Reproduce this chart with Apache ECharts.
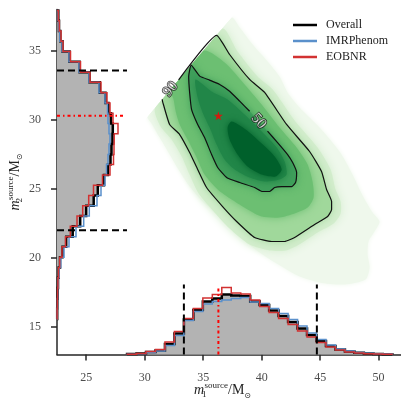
<!DOCTYPE html>
<html><head><meta charset="utf-8">
<script src="https://cdn.jsdelivr.net/npm/echarts@6/dist/echarts.min.js"></script>
<style>html,body{margin:0;padding:0;background:#fff}#c{width:401px;height:399px}</style>
</head><body><div id="c"></div>
<script>
// ---------- data ----------
const m1Ticks = [25, 30, 35, 40, 45, 50];
const m2Ticks = [15, 20, 25, 30, 35];
const seriesNames = ['Overall', 'IMRPhenom', 'EOBNR'];

// m1 marginal histogram (bin edges, counts)
const m1Edges = [28.49, 29.30, 30.11, 30.92, 31.73, 32.54, 33.35, 34.16, 34.97, 35.78, 36.59, 37.40, 38.21, 39.02, 39.83, 40.64, 41.45, 42.26, 43.07, 43.88, 44.69, 45.50, 46.31, 47.12, 47.93, 48.74, 49.55, 50.36, 51.17];
const m1Overall = [5, 10, 25, 40, 105, 210, 350, 445, 530, 560, 600, 590, 585, 530, 495, 440, 385, 325, 260, 195, 135, 85, 50, 30, 17, 10, 6, 3];
const m1IMRPhenom = [3, 7, 20, 35, 90, 190, 340, 430, 505, 530, 545, 560, 570, 525, 510, 460, 410, 350, 285, 215, 150, 95, 55, 35, 20, 12, 8, 4];
const m1EOBNR = [3, 10, 30, 50, 125, 230, 360, 460, 565, 600, 670, 615, 605, 545, 480, 420, 360, 300, 235, 175, 120, 75, 45, 25, 15, 8, 4, 2];

// m2 marginal histogram (bin edges, counts)
const m2Edges = [15.58, 16.33, 17.07, 17.82, 18.56, 19.31, 20.05, 20.80, 21.54, 22.29, 23.03, 23.78, 24.52, 25.27, 26.01, 26.76, 27.50, 28.25, 28.99, 29.74, 30.48, 31.23, 31.97, 32.72, 33.46, 34.21, 34.95, 35.70, 36.44, 37.19, 37.93];
const m2Overall = [2, 3, 6, 10, 17, 30, 55, 92, 157, 232, 292, 367, 408, 470, 510, 535, 545, 555, 558, 540, 515, 485, 428, 325, 226, 125, 55, 33, 20, 13];
const m2IMRPhenom = [2, 4, 7, 12, 22, 38, 70, 120, 190, 267, 323, 400, 440, 480, 495, 510, 520, 530, 520, 510, 505, 480, 420, 320, 220, 120, 50, 28, 18, 10];
const m2EOBNR = [1, 3, 5, 9, 15, 27, 50, 85, 133, 200, 257, 317, 365, 455, 530, 565, 570, 572, 610, 560, 530, 500, 440, 330, 235, 135, 60, 40, 23, 13];

// credible interval bounds and max-likelihood point
const m1Interval = [33.35, 44.72];
const m2Interval = [22.0, 33.58];
const maxLikelihood = [36.3, 30.3];

// 2D contours (m1, m2)
const contour90 = [[32.9, 32.9], [36.15, 36.12], [37.26, 34.74], [38.97, 32.93], [40.25, 31.99], [42.13, 29.67], [44.1, 27.71], [45.12, 26.26], [45.55, 24.96], [45.98, 24.09], [45.98, 23.51], [45.64, 23.0], [44.53, 22.42], [42.82, 21.48], [41.96, 21.19], [40.85, 21.19], [39.4, 21.48], [37.86, 22.64], [36.66, 23.72], [35.29, 25.1], [34.53, 26.41], [33.84, 27.64], [32.99, 28.94], [32.13, 29.67], [31.53, 31.33], [31.5, 31.5]];
const contour50 = [[40.5, 29.18], [41.36, 28.36], [42.22, 27.49], [42.65, 26.91], [42.99, 26.19], [42.9, 25.46], [42.56, 25.17], [41.71, 25.17], [41.11, 25.1], [40.68, 24.81], [40.08, 24.81], [39.4, 25.1], [38.12, 25.46], [37.0, 25.83], [36.24, 26.55], [35.72, 27.49], [35.12, 28.72], [34.53, 29.67], [34.01, 30.75], [33.84, 31.99], [33.76, 33.14], [33.97, 33.97], [34.7, 33.17], [35.55, 32.88], [36.41, 32.57], [37.26, 32.08], [38.12, 31.36], [38.97, 30.63]];
const contourLabelText = ['90', '50'];
const contourLabelAt = [[32.2, 32.22], [39.74, 29.9]];

// density shading levels (outermost to core)
const densityOuter = [[37.4, 37.4], [38.12, 36.7], [39.23, 35.46], [40.51, 34.23], [41.53, 33.14], [42.22, 31.99], [43.24, 30.9], [44.95, 29.45], [46.66, 27.71], [47.77, 26.04], [48.63, 24.52], [49.48, 23.29], [50.08, 22.64], [49.65, 21.91], [49.14, 21.19], [49.06, 20.25], [49.23, 19.3], [48.88, 18.43], [47.09, 18.07], [44.95, 18.22], [43.07, 18.72], [41.28, 19.59], [39.57, 20.54], [38.37, 21.33], [37.26, 22.2], [36.15, 23.14], [34.95, 24.09], [33.84, 25.17], [32.99, 26.26], [32.13, 27.49], [31.28, 28.72], [30.59, 29.74], [30.25, 30.25]];
const densityHalo = [[36.6, 36.6], [37.94, 34.96], [39.65, 33.14], [40.94, 32.2], [42.82, 29.96], [44.78, 28.0], [45.89, 26.41], [46.32, 24.96], [46.75, 24.09], [46.75, 23.22], [46.15, 22.49], [44.78, 21.84], [43.07, 20.9], [42.05, 20.54], [40.68, 20.54], [38.97, 20.97], [37.26, 22.13], [35.98, 23.29], [34.61, 24.67], [33.84, 26.04], [33.16, 27.35], [32.3, 28.58], [31.36, 29.52], [30.9, 30.9]];
const densityMid = [[35.0, 35.0], [36.83, 34.16], [38.54, 32.57], [40.0, 31.12], [41.53, 29.45], [42.99, 28.0], [43.93, 26.77], [44.35, 25.54], [44.44, 24.38], [43.93, 23.65], [42.82, 23.22], [41.53, 22.93], [40.0, 23.0], [38.8, 23.51], [37.43, 24.23], [36.24, 24.96], [35.12, 26.04], [34.44, 27.28], [33.67, 28.58], [32.99, 29.67], [32.65, 30.61], [32.47, 31.48], [32.2, 32.2]];
const densityInner = [[34.35, 32.93], [35.72, 32.06], [37.09, 31.48], [38.54, 30.39], [40.0, 29.16], [41.28, 28.0], [41.96, 26.99], [42.13, 26.04], [41.53, 25.68], [40.25, 25.54], [38.97, 25.83], [37.69, 26.41], [36.83, 27.13], [36.15, 28.22], [35.55, 29.45], [34.95, 30.54], [34.53, 31.62]];
const densityCore = [[37.43, 29.88], [38.63, 29.3], [40.0, 28.29], [41.11, 27.35], [41.71, 26.41], [41.19, 25.9], [40.0, 26.04], [38.8, 26.62], [37.94, 27.49], [37.26, 28.58], [37.09, 29.45]];

// ---------- styling ----------
const X_MIN = 22.5, X_MAX = 52, Y_MIN = 13, Y_MAX = 38, HIST_MAX = 3450;
const INTERVAL_LINE_TOP = 700, ML_LINE_TOP = 670;
const FONT = 'Liberation Serif, DejaVu Serif, serif';
const C_BLUE = '#5a90cb', C_RED = '#d23232', C_GRAY = '#b3b3b3';
const shadeLevels = [
  [densityOuter, '#eff8ec', 5],
  [densityHalo, '#d3edcd', 10],
  [contour90, '#a0d89b', 8],
  [densityMid, '#6cbf72', 9],
  [contour50, '#3f9f5b', 8],
  [densityInner, '#218648', 8],
  [densityCore, '#00602b', 7]
];

function stepHist(name, edges, counts, horizontal, color, width, fill, z) {
  return {
    type: 'custom', name: name, z: z,
    xAxisIndex: horizontal ? 1 : 0, yAxisIndex: horizontal ? 0 : 1,
    itemStyle: { color: color },
    data: counts.map((c, i) => [edges[i], edges[i + 1], c]),
    encode: horizontal ? { x: 2, y: [0, 1] } : { x: [0, 1], y: 2 },
    renderItem: function (params, api) {
      if (params.dataIndex !== 0) return null;
      const pt = (v, c) => horizontal ? api.coord([c, v]) : api.coord([v, c]);
      const pts = [pt(edges[0], 0)];
      counts.forEach((c, i) => { pts.push(pt(edges[i], c)); pts.push(pt(edges[i + 1], c)); });
      pts.push(pt(edges[counts.length], 0));
      const children = [];
      if (fill) children.push({ type: 'polygon', shape: { points: pts }, style: { fill: fill, stroke: null } });
      children.push({ type: 'polyline', shape: { points: pts }, style: { fill: null, stroke: color, lineWidth: width, lineJoin: 'miter' } });
      return { type: 'group', children: children };
    }
  };
}

function refLine(axisIsM1, value, top, color, dash) {
  return {
    type: 'line', silent: true, z: 6, symbol: 'none', animation: false,
    xAxisIndex: axisIsM1 ? 0 : 1, yAxisIndex: axisIsM1 ? 1 : 0,
    data: axisIsM1 ? [[value, 0], [value, top]] : [[0, value], [top, value]],
    lineStyle: { color: color, width: 2, type: dash }
  };
}

const shadingSeries = {
  type: 'custom', silent: true, z: 1,
  xAxisIndex: 0, yAxisIndex: 0,
  data: densityOuter,
  encode: { x: 0, y: 1 },
  renderItem: function (params, api) {
    if (params.dataIndex !== 0) return null;
    const children = shadeLevels.map(([poly, col, blur]) => ({
      type: 'polygon',
      shape: { points: poly.map(p => api.coord(p)), smooth: 0.25 },
      style: { fill: col, stroke: null, shadowBlur: blur, shadowColor: col }
    }));
    const clip = [[X_MIN, Y_MIN], [X_MAX, Y_MIN], [X_MAX, Y_MAX], [Y_MAX, Y_MAX], [X_MIN, X_MIN]].map(p => api.coord(p));
    return { type: 'group', children: children, clipPath: { type: 'polygon', shape: { points: clip } } };
  }
};

const contourLine = (pts) => ({
  type: 'line', silent: true, z: 3, symbol: 'none', smooth: 0.15,
  xAxisIndex: 0, yAxisIndex: 0, data: pts,
  lineStyle: { color: '#111', width: 1.2 }
});

const axisNameRich = {
  i: { fontFamily: FONT, fontStyle: 'italic', fontSize: 14, color: '#222', lineHeight: 18 },
  s: { fontFamily: FONT, fontSize: 9, color: '#222', verticalAlign: 'bottom', lineHeight: 18, width: 0.5 },
  p: { fontFamily: FONT, fontSize: 9, color: '#222', verticalAlign: 'top', lineHeight: 18 },
  n: { fontFamily: FONT, fontSize: 14, color: '#222', lineHeight: 18 },
  o: { fontFamily: 'DejaVu Sans', fontSize: 8, color: '#222', verticalAlign: 'bottom', lineHeight: 18 }
};

const axisCommon = {
  axisLine: { show: true, onZero: false, lineStyle: { color: '#262626', width: 1.5 } },
  splitLine: { show: false },
  nameMoveOverlap: false
};

const option = {
  animation: false,
  backgroundColor: '#fff',
  grid: { left: 57, top: 9.5, width: 345, height: 345, containLabel: false, outerBoundsMode: 'none' },
  legend: {
    orient: 'vertical', left: 288, top: 13, itemWidth: 24, itemHeight: 2.5, itemGap: 2, icon: 'rect',
    textStyle: { fontFamily: FONT, fontSize: 12, color: '#222', lineHeight: 14, padding: [0, 0, 0, 4] },
    data: [
      { name: seriesNames[0], itemStyle: { color: '#000' } },
      { name: seriesNames[1], itemStyle: { color: C_BLUE } },
      { name: seriesNames[2], itemStyle: { color: C_RED } }
    ]
  },
  xAxis: [
    Object.assign({
      type: 'value', min: X_MIN, max: X_MAX, position: 'bottom',
      axisTick: { show: true, length: 6, lineStyle: { color: '#262626', width: 1.5 }, customValues: m1Ticks },
      axisLabel: { customValues: m1Ticks, margin: 17, color: '#4d4d4d', fontFamily: FONT, fontSize: 12 },
      name: '{i|m}{s|1}{p|source}{n|/M}{o|⊙}', nameLocation: 'middle', nameGap: 27,
      nameTextStyle: { rich: axisNameRich, padding: [0, 14, 0, 0] }
    }, axisCommon),
    { type: 'value', min: 0, max: HIST_MAX, show: false }
  ],
  yAxis: [
    Object.assign({
      type: 'value', min: Y_MIN, max: Y_MAX, position: 'left',
      axisTick: { show: true, length: 6, lineStyle: { color: '#262626', width: 1.5 }, customValues: m2Ticks },
      axisLabel: { customValues: m2Ticks, margin: 16, color: '#4d4d4d', fontFamily: FONT, fontSize: 12 },
      name: '{i|m}{s|2}{p|source}{n|/M}{o|⊙}', nameLocation: 'middle', nameGap: 33, nameRotate: 90,
      nameTextStyle: { rich: axisNameRich }
    }, axisCommon),
    { type: 'value', min: 0, max: HIST_MAX, show: false }
  ],
  series: [
    shadingSeries,
    contourLine(contour90),
    contourLine(contour50),
    {
      type: 'scatter', silent: true, z: 4, xAxisIndex: 0, yAxisIndex: 0, symbolSize: 0,
      data: contourLabelAt.map((p, i) => ({ value: p, label: { formatter: contourLabelText[i], rotate: i === 0 ? 50 : -48 } })),
      label: { show: true, position: 'inside', color: '#fff', textBorderColor: '#111', textBorderWidth: 1.6, fontFamily: FONT, fontSize: 15 }
    },
    {
      type: 'scatter', silent: true, z: 5, xAxisIndex: 0, yAxisIndex: 0,
      symbol: 'path://M50,0 L61,35 L98,35 L68,57 L79,91 L50,70 L21,91 L32,57 L2,35 L39,35 Z',
      symbolSize: 9, itemStyle: { color: '#ff0000' }, data: [maxLikelihood]
    },
    stepHist(seriesNames[0], m1Edges, m1Overall, false, '#000', 2.5, C_GRAY, 2),
    stepHist(seriesNames[1], m1Edges, m1IMRPhenom, false, C_BLUE, 1.5, null, 3),
    stepHist(seriesNames[2], m1Edges, m1EOBNR, false, C_RED, 1.5, null, 3),
    stepHist(seriesNames[0], m2Edges, m2Overall, true, '#000', 2.5, C_GRAY, 2),
    stepHist(seriesNames[1], m2Edges, m2IMRPhenom, true, C_BLUE, 1.5, null, 3),
    stepHist(seriesNames[2], m2Edges, m2EOBNR, true, C_RED, 1.5, null, 3),
    refLine(true, m1Interval[0], INTERVAL_LINE_TOP, '#000', [7, 4]),
    refLine(true, m1Interval[1], INTERVAL_LINE_TOP, '#000', [7, 4]),
    refLine(true, maxLikelihood[0], ML_LINE_TOP, '#ff0000', [3, 3, 1.5, 3]),
    refLine(false, m2Interval[0], INTERVAL_LINE_TOP, '#000', [7, 4]),
    refLine(false, m2Interval[1], INTERVAL_LINE_TOP, '#000', [7, 4]),
    refLine(false, maxLikelihood[1], ML_LINE_TOP, '#ff0000', [3, 3, 1.5, 3])
  ]
};
const chart = echarts.init(document.getElementById('c'), null, { renderer: 'canvas' });
chart.setOption(option);
</script></body></html>
